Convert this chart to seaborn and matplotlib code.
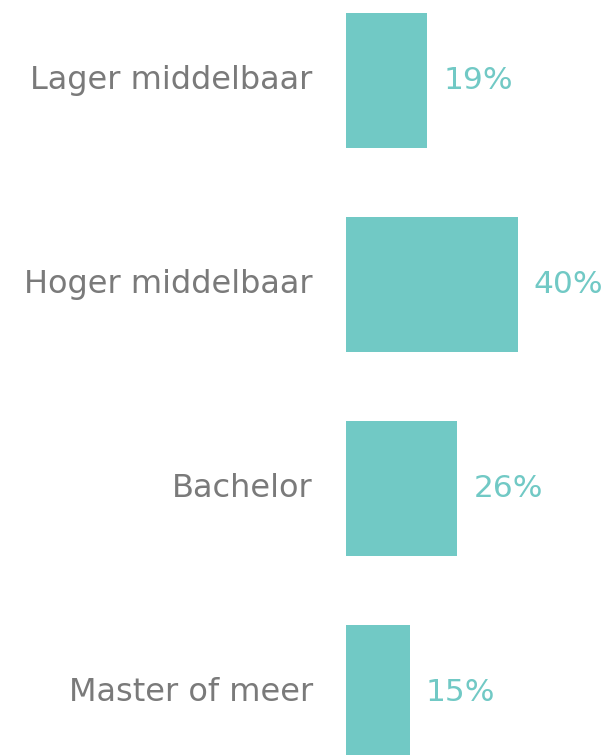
import matplotlib
matplotlib.use("Agg")
import matplotlib.pyplot as plt
import seaborn as sns
import pandas as pd

categories = ["Lager middelbaar", "Hoger middelbaar", "Bachelor", "Master of meer"]
shares = [19, 40, 26, 15]
value_labels = ["19%", "40%", "26%", "15%"]

teal = "#71C9C5"
grey = "#7A7A7A"

sns.set_theme(style="white")
plt.rcParams["font.family"] = ["DejaVu Sans"]

df = pd.DataFrame({"niveau": categories, "aandeel": shares})

fig = plt.figure(figsize=(6.08, 7.55), dpi=100)
ax = fig.add_axes([345.5 / 608, 0, 262.5 / 608, 1])

sns.barplot(data=df, y="niveau", x="aandeel", orient="h", color=teal,
            saturation=1, width=0.662, linewidth=0, edgecolor=teal, ax=ax)

ax.set_xlim(0, 262.5 / 4.3)
ax.set_ylim(3.306, -0.395)
ax.set_xlabel("")
ax.set_ylabel("")
ax.set_xticks([])
ax.tick_params(axis="y", length=0, pad=23.5, labelsize=23, labelcolor=grey)
for t in ax.get_yticklabels():
    t.set_verticalalignment("center")
sns.despine(ax=ax, left=True, bottom=True)

for i, (v, lab) in enumerate(zip(shares, value_labels)):
    ax.annotate(lab, xy=(v, i), xytext=(11.5, 0), textcoords="offset points",
                va="center", ha="left", fontsize=22.5, color=teal,
                annotation_clip=False)

fig.savefig("out.png", dpi=100)
